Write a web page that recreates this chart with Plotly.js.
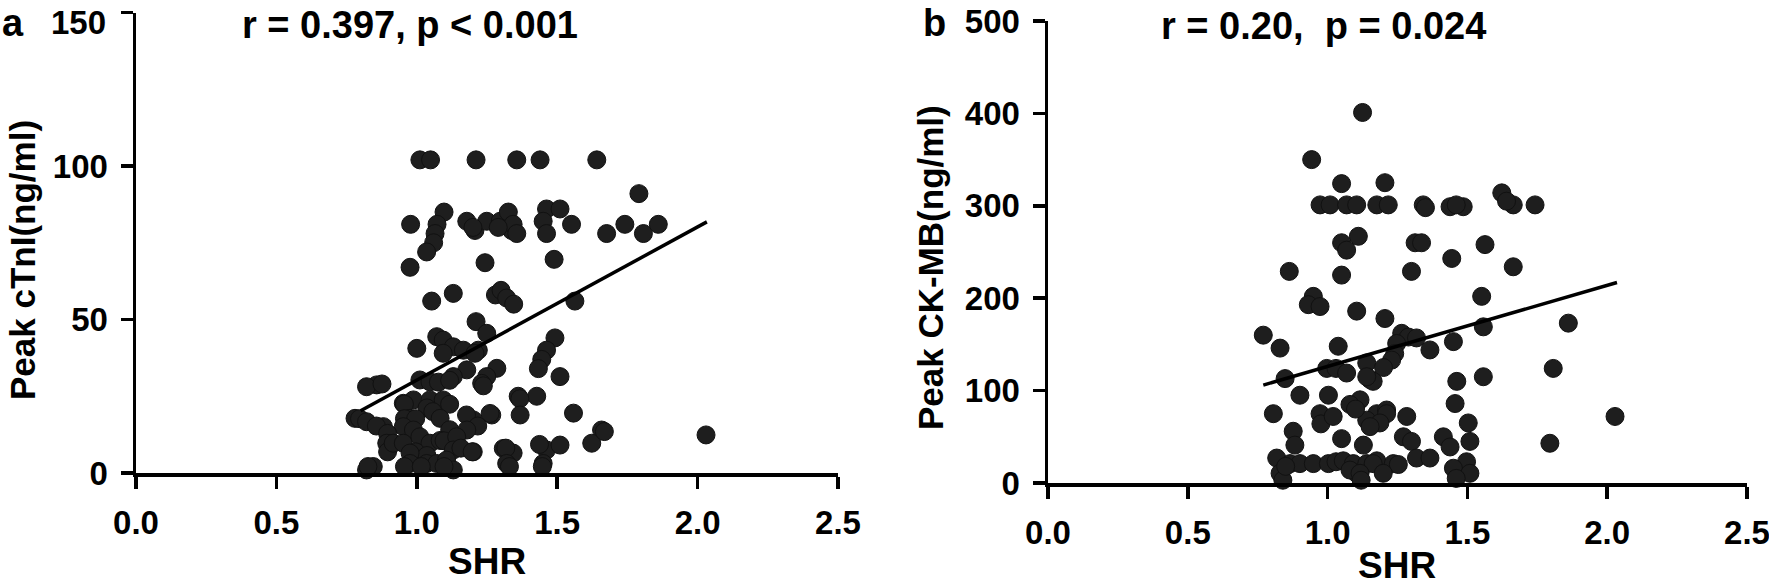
<!DOCTYPE html>
<html>
<head>
<meta charset="utf-8">
<script src="https://cdn.plot.ly/plotly-3.0.1.min.js"></script>
<style>
  html, body { margin: 0; padding: 0; background: #ffffff; }
  #chart { width: 1769px; height: 584px; }
</style>
</head>
<body>
<div id="chart"></div>
<script>
// ---------- Panel a: SHR vs Peak cTnI ----------
const shrA = [
  1.011,1.049,1.211,1.356,1.439,1.641,
  1.791,
  0.978,1.097,1.072,1.065,1.060,1.035,1.178,1.207,1.249,1.297,1.326,1.338,1.343,1.356,1.462,1.510,1.450,1.462,1.551,1.676,1.741,1.807,1.860,1.200,1.290,
  0.976,1.243,1.489,
  1.053,1.130,1.280,1.300,1.320,1.345,1.563,
  1.211,1.249,1.219,1.071,1.094,1.130,1.166,1.000,1.094,1.492,1.462,1.445,1.433,1.207,
  1.510,1.285,1.249,1.178,1.130,1.011,1.047,1.077,1.117,1.231,0.857,0.821,0.876,1.237,
  1.361,1.427,1.367,0.952,0.988,1.047,1.094,1.117,1.036,1.057,0.956,1.558,
  1.267,1.368,1.261,0.780,0.796,0.821,0.881,0.976,1.083,1.201,1.177,0.956,0.996,1.217,0.856,0.952,0.988,1.178,1.117,1.658,2.030,
  0.896,0.893,0.896,0.916,0.952,1.011,1.047,1.083,1.097,1.142,1.130,1.201,1.157,1.197,0.996,1.036,0.976,1.308,1.343,1.317,1.462,1.510,1.437,1.623,1.668,
  0.845,0.821,0.826,0.976,1.035,1.071,1.106,1.130,0.956,1.016,1.097,1.320,1.330,1.450,1.447
];
const ctniA = [
  102,102,102,102,102,102,
  91,
  81,85,81,78,75,72,82,79,82,82,85,79,81,78,86,86,82,78,81,78,81,78,81,80,80,
  67,68.5,69.6,
  56,58.5,58,59.5,57,55,56,
  49.3,45.5,40,44.4,43.3,41.1,40,40.6,39,44,40,37,34,39,
  31.4,34.1,31.4,33.6,31.4,30.3,29.7,29.6,30.2,29.2,28.7,28.1,29,28.4,
  25,25,24.2,22.7,23.8,23.8,23.8,22.4,21.2,20,22.4,19.5,
  18.9,18.9,19.4,17.8,17.7,16.7,15.1,17.8,17.8,17.3,18.9,17.7,17.7,15.3,15.3,15.1,14,14,14.1,14,12.4,
  12.9,9.7,6.9,9.7,9.7,11.8,9.7,10.6,10.5,11.8,7.5,6.9,8.1,6.9,6.9,5.7,6.5,8,6.5,8.1,7.5,9.1,9.3,9.7,13.5,
  2.1,1,2.1,3.1,3.1,3.1,4.2,1,2.1,2.1,2.1,3.1,2.1,3.1,2.1
];
const fitAx = [0.80, 2.033];
const fitAy = [20.3, 81.8];

// ---------- Panel b: SHR vs Peak CK-MB ----------
const shrB = [
  1.125,0.943,1.050,1.205,
  0.973,1.009,1.068,1.104,1.176,1.217,1.342,1.438,1.485,1.460,1.623,1.664,1.742,1.640,1.350,
  1.110,1.050,1.068,1.313,1.336,1.563,1.444,
  0.863,1.050,1.300,1.664,
  0.949,0.931,0.973,1.551,1.104,1.205,1.861,1.557,
  0.770,0.830,1.038,1.265,1.289,1.318,1.247,1.366,1.450,1.240,
  1.229,1.140,0.997,1.030,1.068,1.807,1.200,
  0.848,1.152,1.163,1.140,1.557,1.462,
  0.901,1.003,1.116,1.080,1.456,
  0.806,0.973,1.176,1.211,1.211,1.283,2.028,1.140,1.187,1.503,0.976,1.152,1.020,1.100,
  0.877,1.050,1.271,1.414,1.300,1.509,1.795,0.883,1.128,1.438,
  0.818,1.318,1.366,0.866,0.901,0.949,1.003,1.030,1.056,1.092,1.140,1.176,1.235,1.253,1.163,1.497,1.450,
  0.830,1.104,1.199,1.509,1.080,1.116,0.840,1.120,1.460,0.850
];
const ckmbB = [
  401,350,324,325,
  301,301,301,301,301,301,301,299,299,301,314,301,301,305,298,
  267,260,252,260,260,258,243,
  229,225,229,234,
  202,193,191,202,186,178,173,169,
  160,146,148,162,158,157,151,144,153,140,
  133,130,124,124,119,124,125,
  113,112,110,115,115,110,
  95,95,90,85,86,
  75,75,75,79,75,72,72,68,65,65,64,61,72,80,
  56,48,50,50,45,45,43,41,41,39,
  27,27,27,21,21,21,21,23,24,21,21,24,21,20,21,23,16,
  10.5,10.5,10.5,10.5,14,10.5,3,3,5,18
];
const fitBx = [0.77, 2.035];
const fitBy = [106, 217];

const xTicks = [0, 0.5, 1.0, 1.5, 2.0, 2.5];
const yTicksA = [0, 50, 100, 150];
const yTicksB = [0, 100, 200, 300, 400, 500];

// ---------- drawing ----------
const W = 1769, H = 584;
const px = v => v / W;
const py = v => 1 - v / H;
const FONT = 'Liberation Sans, Arial, Helvetica, sans-serif';
const INK = '#000000';
const DOT = '#1e1e1e';

const markerStyle = { size: 18, color: DOT, line: { color: '#111111', width: 1 } };

const traces = [
  { x: shrA, y: ctniA, type: 'scatter', mode: 'markers', marker: markerStyle,
    xaxis: 'x', yaxis: 'y', cliponaxis: false, hoverinfo: 'x+y' },
  { x: fitAx, y: fitAy, type: 'scatter', mode: 'lines', line: { color: INK, width: 3.5 },
    xaxis: 'x', yaxis: 'y', cliponaxis: false },
  { x: shrB, y: ckmbB, type: 'scatter', mode: 'markers', marker: markerStyle,
    xaxis: 'x2', yaxis: 'y2', cliponaxis: false, hoverinfo: 'x+y' },
  { x: fitBx, y: fitBy, type: 'scatter', mode: 'lines', line: { color: INK, width: 3.5 },
    xaxis: 'x2', yaxis: 'y2', cliponaxis: false }
];

const tickFont = { family: FONT, size: 33, color: INK, weight: 'bold' };
const axisCommon = {
  showline: true, linecolor: INK, linewidth: 3.5,
  ticks: 'outside', ticklen: 12, tickwidth: 3.5, tickcolor: INK,
  showgrid: false, zeroline: false, tickfont: tickFont,
  ticklabelstandoff: 6, ticklabeloverflow: 'allow', automargin: false, fixedrange: true
};

// top label of panel a sits a little lower than its tick (kept inside the canvas)
const yTextA = yTicksA.map((v, i) => i === yTicksA.length - 1 ? '' : String(v));

const layout = {
  width: W, height: H,
  margin: { l: 0, r: 0, t: 0, b: 0, pad: 0 },
  paper_bgcolor: '#ffffff', plot_bgcolor: 'rgba(0,0,0,0)',
  showlegend: false,
  xaxis: Object.assign({}, axisCommon, {
    domain: [px(136), px(838)], range: [0, 2.5], anchor: 'y',
    tickvals: xTicks, tickformat: '.1f'
  }),
  yaxis: Object.assign({}, axisCommon, {
    domain: [py(473), py(12.5)], range: [0, 150], anchor: 'x',
    tickvals: yTicksA, ticktext: yTextA
  }),
  xaxis2: Object.assign({}, axisCommon, {
    domain: [px(1048), px(1747)], range: [0, 2.5], anchor: 'y2',
    tickvals: xTicks, tickformat: '.1f'
  }),
  yaxis2: Object.assign({}, axisCommon, {
    domain: [py(483), py(21)], range: [0, 500], anchor: 'x2',
    tickvals: yTicksB
  }),
  annotations: [
    { text: String(yTicksA[yTicksA.length - 1]), xref: 'paper', yref: 'y',
      x: px(108), y: yTicksA[yTicksA.length - 1], yshift: -10,
      xanchor: 'right', yanchor: 'middle', showarrow: false, font: tickFont },
    { text: 'Peak cTnI(ng/ml)', textangle: -90, xref: 'paper', yref: 'paper',
      x: px(22), y: py(260), xanchor: 'center', yanchor: 'middle', showarrow: false,
      font: { family: FONT, size: 35, color: INK, weight: 'bold' } },
    { text: 'Peak CK-MB(ng/ml)', textangle: -90, xref: 'paper', yref: 'paper',
      x: px(930), y: py(268), xanchor: 'center', yanchor: 'middle', showarrow: false,
      font: { family: FONT, size: 35, color: INK, weight: 'bold' } },
    { text: 'SHR', xref: 'paper', yref: 'paper',
      x: px(487), y: py(561), xanchor: 'center', yanchor: 'middle', showarrow: false,
      font: { family: FONT, size: 37, color: INK, weight: 'bold' } },
    { text: 'SHR', xref: 'paper', yref: 'paper',
      x: px(1397), y: py(565), xanchor: 'center', yanchor: 'middle', showarrow: false,
      font: { family: FONT, size: 37, color: INK, weight: 'bold' } },
    { text: 'r = 0.397, p < 0.001', xref: 'paper', yref: 'paper',
      x: px(410), y: py(25), xanchor: 'center', yanchor: 'middle', showarrow: false,
      font: { family: FONT, size: 38, color: INK, weight: 'bold' } },
    { text: 'r = 0.20,  p = 0.024', xref: 'paper', yref: 'paper',
      x: px(1323), y: py(26), xanchor: 'center', yanchor: 'middle', showarrow: false,
      font: { family: FONT, size: 38, color: INK, weight: 'bold' } },
    { text: 'a', xref: 'paper', yref: 'paper',
      x: px(0), y: py(0), xanchor: 'left', yanchor: 'top', showarrow: false,
      font: { family: FONT, size: 38, color: INK, weight: 'bold' } },
    { text: 'b', xref: 'paper', yref: 'paper',
      x: px(921), y: py(0), xanchor: 'left', yanchor: 'top', showarrow: false,
      font: { family: FONT, size: 38, color: INK, weight: 'bold' } }
  ]
};

Plotly.newPlot('chart', traces, layout, { staticPlot: true, displayModeBar: false });
</script>
</body>
</html>
